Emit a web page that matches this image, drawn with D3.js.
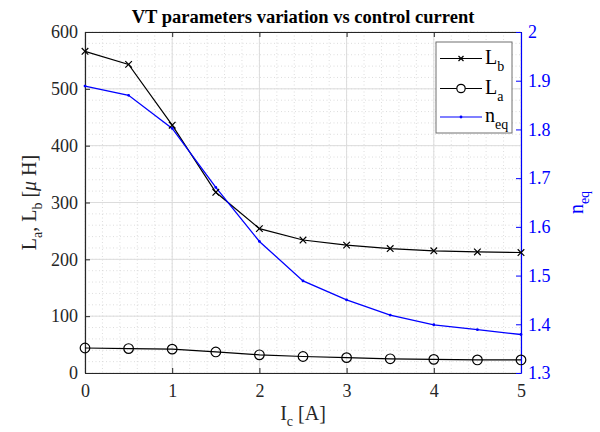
<!DOCTYPE html>
<html>
<head>
<meta charset="utf-8">
<script src="https://cdn.jsdelivr.net/npm/d3@7"></script>
<style>
  html, body { margin: 0; padding: 0; background: #fff; }
  svg text { font-family: "Liberation Serif", "Times New Roman", serif; }
</style>
</head>
<body>
<svg id="chart" width="600" height="432"></svg>
<script>
// Control current (A)
const current = [0, 0.5, 1, 1.5, 2, 2.5, 3, 3.5, 4, 4.5, 5];
// Inductances (µH)
const Lb = [566, 543, 436, 318, 254, 234, 225, 219, 215, 213, 212];
const La = [44, 43, 42, 37, 32, 29, 27, 25, 24, 23, 23];
// Equivalent ratio
const neq = [1.889, 1.870, 1.802, 1.681, 1.570, 1.489, 1.450, 1.419, 1.399, 1.389, 1.379];

const xTicks = [0, 1, 2, 3, 4, 5];
const yLeftTicks = [0, 100, 200, 300, 400, 500, 600];
const yRightTicks = [1.3, 1.4, 1.5, 1.6, 1.7, 1.8, 1.9, 2];

const svg = d3.select("#chart");
const m = { left: 85, right: 521, top: 32, bottom: 373 };
const axisColor = "#262626";
const blue = "#0000ff";
const serif = '"Liberation Serif", "Times New Roman", serif';

const x = d3.scaleLinear().domain([0, 5]).range([m.left, m.right]);
const yL = d3.scaleLinear().domain([0, 600]).range([m.bottom, m.top]);
const yR = d3.scaleLinear().domain([1.3, 2]).range([m.bottom, m.top]);

// minor grid (dotted)
const grid = svg.append("g");
const xMinor = d3.range(0, 5.0001, 0.2);
const yMinor = d3.range(0, 600.001, 20);
grid.selectAll(".xm").data(xMinor).enter().append("line")
  .attr("x1", d => x(d)).attr("x2", d => x(d))
  .attr("y1", m.top).attr("y2", m.bottom)
  .attr("stroke", "#d4d4d4").attr("stroke-width", 0.8).attr("stroke-dasharray", "1,2.5");
grid.selectAll(".ym").data(yMinor).enter().append("line")
  .attr("x1", m.left).attr("x2", m.right)
  .attr("y1", d => yL(d)).attr("y2", d => yL(d))
  .attr("stroke", "#d4d4d4").attr("stroke-width", 0.8).attr("stroke-dasharray", "1,2.5");
// major grid
grid.selectAll(".xg").data(xTicks).enter().append("line")
  .attr("x1", d => x(d)).attr("x2", d => x(d))
  .attr("y1", m.top).attr("y2", m.bottom)
  .attr("stroke", "#dcdcdc").attr("stroke-width", 1);
grid.selectAll(".yg").data(yLeftTicks).enter().append("line")
  .attr("x1", m.left).attr("x2", m.right)
  .attr("y1", d => yL(d)).attr("y2", d => yL(d))
  .attr("stroke", "#dcdcdc").attr("stroke-width", 1);

// axes
const tickFont = 18;
const gx = svg.append("g").attr("transform", `translate(0,${m.bottom})`)
  .call(d3.axisBottom(x).tickValues(xTicks).tickFormat(d3.format("d")).tickSizeInner(-5).tickSizeOuter(0).tickPadding(11));
const gxTop = svg.append("g").attr("transform", `translate(0,${m.top})`)
  .call(d3.axisTop(x).tickValues(xTicks).tickFormat("").tickSizeInner(-5).tickSizeOuter(0));
const gyL = svg.append("g").attr("transform", `translate(${m.left},0)`)
  .call(d3.axisLeft(yL).tickValues(yLeftTicks).tickSizeInner(-5).tickSizeOuter(0).tickPadding(7));
const gyR = svg.append("g").attr("transform", `translate(${m.right},0)`)
  .call(d3.axisRight(yR).tickValues(yRightTicks).tickFormat(d => d3.format("")(+d.toFixed(1))).tickSizeInner(-5).tickSizeOuter(0).tickPadding(7));

[gx, gxTop, gyL, gyR].forEach(g => g.attr("font-family", serif).attr("font-size", tickFont));
[gx, gxTop, gyL].forEach(g => {
  g.select(".domain").attr("stroke", axisColor).attr("stroke-width", 1.2);
  g.selectAll(".tick line").attr("stroke", axisColor).attr("stroke-width", 1);
  g.selectAll(".tick text").attr("fill", axisColor);
});
gyR.select(".domain").attr("stroke", blue).attr("stroke-width", 1.2);
gyR.selectAll(".tick line").attr("stroke", blue).attr("stroke-width", 1);
gyR.selectAll(".tick text").attr("fill", blue);

// data lines
const lineL = (vals) => d3.line().x((d, i) => x(current[i])).y(d => yL(d))(vals);
const lineR = d3.line().x((d, i) => x(current[i])).y(d => yR(d));

svg.append("path").attr("d", lineL(Lb)).attr("fill", "none").attr("stroke", "#000").attr("stroke-width", 1.2);
svg.append("path").attr("d", lineL(La)).attr("fill", "none").attr("stroke", "#000").attr("stroke-width", 1.2);
svg.append("path").attr("d", lineR(neq)).attr("fill", "none").attr("stroke", blue).attr("stroke-width", 1.3);

const crossPath = (cx, cy, s) => `M${cx - s},${cy - s}L${cx + s},${cy + s}M${cx - s},${cy + s}L${cx + s},${cy - s}`;

svg.append("g").selectAll("path").data(Lb).enter().append("path")
  .attr("d", (d, i) => crossPath(x(current[i]), yL(d), 3.3))
  .attr("stroke", "#000").attr("stroke-width", 1.2).attr("fill", "none");
svg.append("g").selectAll("circle").data(La).enter().append("circle")
  .attr("cx", (d, i) => x(current[i])).attr("cy", d => yL(d)).attr("r", 4.8)
  .attr("stroke", "#000").attr("stroke-width", 1.2).attr("fill", "none");
svg.append("g").selectAll("circle").data(neq).enter().append("circle")
  .attr("cx", (d, i) => x(current[i])).attr("cy", d => yR(d)).attr("r", 1.4)
  .attr("fill", blue);

// title
svg.append("text").attr("x", (m.left + m.right) / 2).attr("y", 23)
  .attr("text-anchor", "middle").attr("font-size", 18.5).attr("font-weight", "bold")
  .attr("fill", "#000").text("VT parameters variation vs control current");

// x label: I_c [A]
const xl = svg.append("text").attr("x", (m.left + m.right) / 2).attr("y", 420)
  .attr("text-anchor", "middle").attr("font-size", 20).attr("fill", axisColor);
xl.append("tspan").text("I");
xl.append("tspan").attr("dy", 6).attr("font-size", 14).text("c");
xl.append("tspan").attr("dy", -6).text(" [A]");

// left y label: L_a, L_b [µ H]
const yl = svg.append("text").attr("transform", `translate(36,${(m.top + m.bottom) / 2}) rotate(-90)`)
  .attr("text-anchor", "middle").attr("font-size", 20).attr("fill", axisColor);
yl.append("tspan").text("L");
yl.append("tspan").attr("dy", 6).attr("font-size", 14).text("a");
yl.append("tspan").attr("dy", -6).text(", L");
yl.append("tspan").attr("dy", 6).attr("font-size", 14).text("b");
yl.append("tspan").attr("dy", -6).text(" [");
yl.append("tspan").attr("font-style", "italic").text("\u03bc");
yl.append("tspan").text(" H]");

// right y label: n_eq
const yr = svg.append("text").attr("transform", `translate(583,${(m.top + m.bottom) / 2}) rotate(-90)`)
  .attr("text-anchor", "middle").attr("font-size", 20).attr("fill", blue);
yr.append("tspan").text("n");
yr.append("tspan").attr("dy", 6).attr("font-size", 14).text("eq");

// legend
const lg = svg.append("g");
lg.append("rect").attr("x", 436).attr("y", 42).attr("width", 76).attr("height", 91)
  .attr("fill", "#fff").attr("stroke", "#707070").attr("stroke-width", 1);
const legendItems = [
  { name: "L", sub: "b", color: "#000", mark: "x", y: 58.5 },
  { name: "L", sub: "a", color: "#000", mark: "o", y: 88.5 },
  { name: "n", sub: "eq", color: blue, mark: ".", y: 117 }
];
legendItems.forEach(it => {
  lg.append("line").attr("x1", 440).attr("x2", 482).attr("y1", it.y).attr("y2", it.y)
    .attr("stroke", it.color).attr("stroke-width", 1.2);
  if (it.mark === "x") {
    lg.append("path").attr("d", crossPath(461, it.y, 2.5)).attr("stroke", it.color).attr("stroke-width", 1.2);
  } else if (it.mark === "o") {
    lg.append("circle").attr("cx", 461).attr("cy", it.y).attr("r", 4.2)
      .attr("fill", "#fff").attr("stroke", it.color).attr("stroke-width", 1.2);
  } else {
    lg.append("circle").attr("cx", 461).attr("cy", it.y).attr("r", 1.4).attr("fill", it.color);
  }
  const t = lg.append("text").attr("x", 485).attr("y", it.y + 5).attr("font-size", 20).attr("fill", "#000");
  t.append("tspan").text(it.name);
  t.append("tspan").attr("dy", 7).attr("font-size", 14).text(it.sub);
});
</script>
</body>
</html>
